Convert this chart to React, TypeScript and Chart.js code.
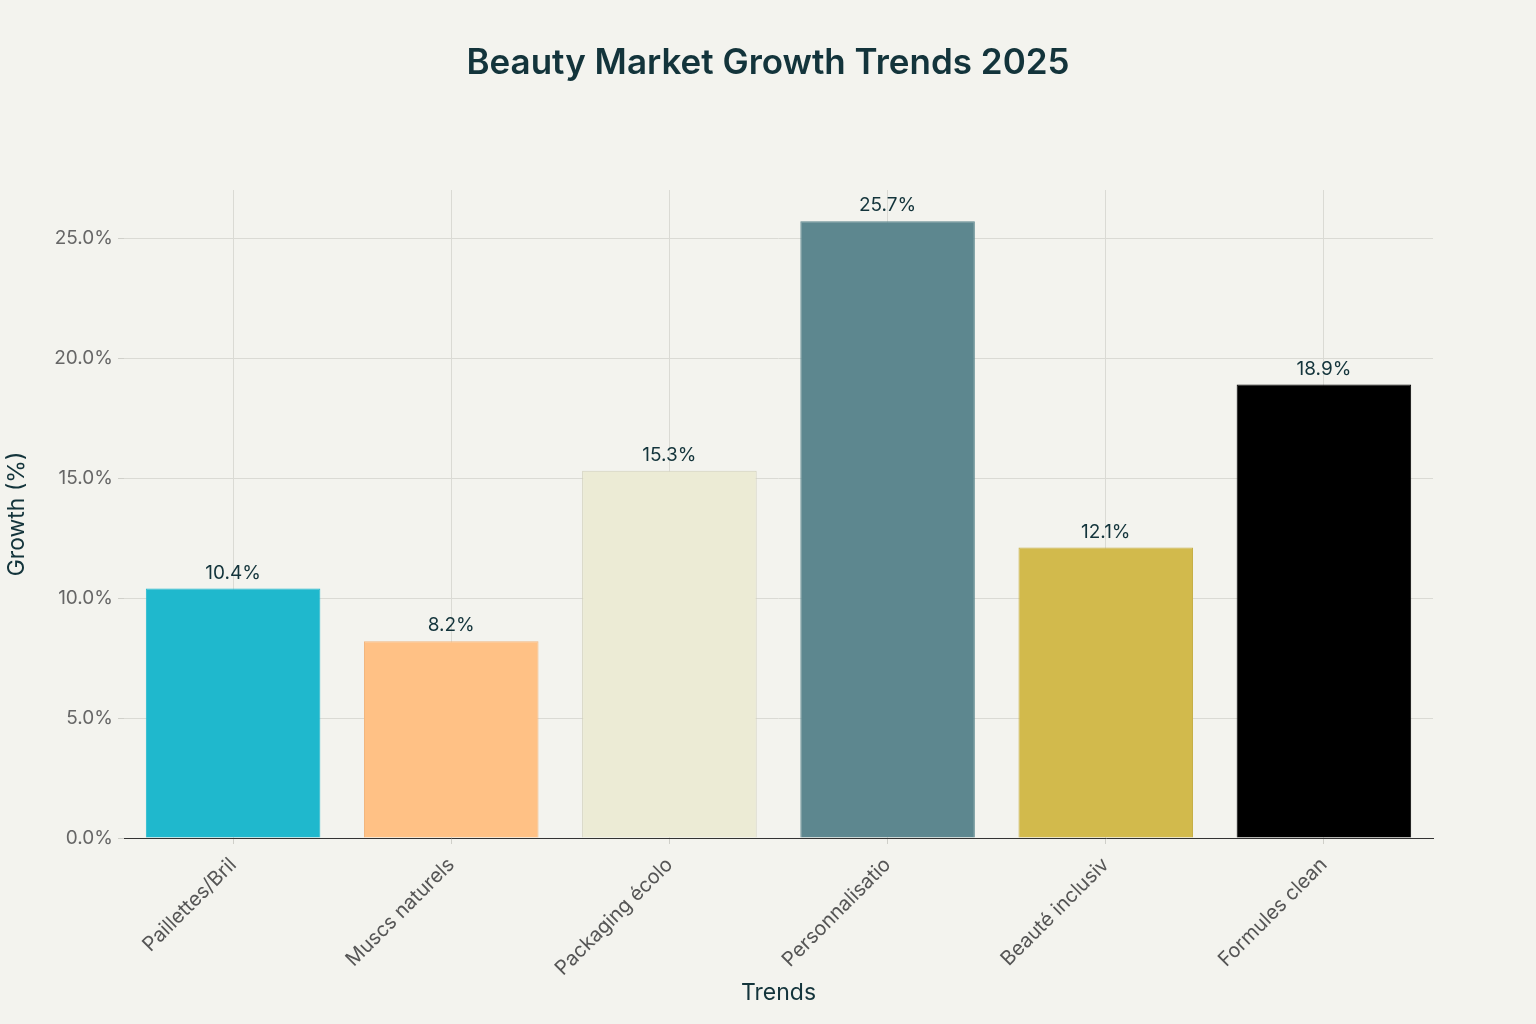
import React, { useEffect, useRef } from "react";
import { Chart, registerables } from "chart.js";

Chart.register(...registerables);

const categories = [
  "Paillettes/Bril",
  "Muscs naturels",
  "Packaging écolo",
  "Personnalisatio",
  "Beauté inclusiv",
  "Formules clean",
];
const growthValues = [10.4, 8.2, 15.3, 25.7, 12.1, 18.9];
const barColors = ["#1FB8CD", "#FFC185", "#ECEBD5", "#5D878F", "#D2BA4C", "#000000"];
const barBorders = ["#1FB8CD", "#F2B67E", "#D2D0BC", "#5D878F", "#C6AF47", "#000000"];
const yTickValues = [0, 5, 10, 15, 20, 25];
const chartTitle = "Beauty Market Growth Trends 2025";

const FONT = "Inter, 'Noto Sans', sans-serif";
const BG = "#F3F3EE";
const TEXT = "#13343B";

// Value labels above each bar
const valueLabels = {
  id: "valueLabels",
  afterDatasetsDraw(chart: any) {
    const { ctx } = chart;
    const meta = chart.getDatasetMeta(0);
    ctx.save();
    ctx.font = `19px ${FONT}`;
    ctx.fillStyle = TEXT;
    ctx.textAlign = "center";
    ctx.textBaseline = "bottom";
    meta.data.forEach((bar: any, i: number) => {
      ctx.fillText(`${growthValues[i].toFixed(1)}%`, bar.x, bar.y - 6);
    });
    ctx.restore();
  },
};

// Page background plus a title centred on the whole canvas
const backgroundAndTitle = {
  id: "backgroundAndTitle",
  beforeDraw(chart: any) {
    const { ctx, width, height } = chart;
    ctx.save();
    ctx.fillStyle = BG;
    ctx.fillRect(0, 0, width, height);
    ctx.font = `600 35px ${FONT}`;
    ctx.fillStyle = TEXT;
    ctx.textAlign = "center";
    ctx.textBaseline = "middle";
    ctx.fillText(chartTitle, width / 2, 63);
    ctx.restore();
  },
};

export default function App() {
  const canvasRef = useRef<HTMLCanvasElement | null>(null);

  useEffect(() => {
    document.body.style.margin = "0";
    document.body.style.background = BG;
    const canvas = canvasRef.current;
    if (!canvas) return;
    const chart = new Chart(canvas, {
      type: "bar",
      data: {
        labels: categories,
        datasets: [
          {
            data: growthValues,
            backgroundColor: barColors,
            borderColor: barBorders,
            borderWidth: 1,
            barPercentage: 0.8,
            categoryPercentage: 1,
          },
        ],
      },
      options: {
        responsive: false,
        animation: false,
        devicePixelRatio: 1,
        layout: { padding: { left: 0, right: 103, top: 190, bottom: 0 } },
        plugins: {
          legend: { display: false },
          tooltip: { enabled: false },
          title: { display: false },
        },
        scales: {
          x: {
            grid: {
              offset: false,
              color: "#DADAD4",
              tickLength: 6,
              tickColor: "#CFCFC9",
            },
            border: { color: "#333333", width: 1 },
            ticks: {
              color: "#555555",
              font: { family: FONT, size: 20 },
              maxRotation: 45,
              minRotation: 45,
              padding: 9,
            },
            title: {
              display: true,
              text: "Trends",
              color: TEXT,
              font: { family: FONT, size: 23 },
              padding: { top: 4, bottom: 17 },
            },
            afterFit(scale: any) {
              scale.height = 186;
            },
          },
          y: {
            min: 0,
            max: 27,
            grid: { color: "#DADAD4", tickLength: 6, tickColor: "#CFCFC9" },
            border: { display: false },
            ticks: {
              stepSize: 5,
              color: "#666666",
              font: { family: FONT, size: 19 },
              padding: 5,
              callback: (v: any) => `${Number(v).toFixed(1)}%`,
            },
            afterBuildTicks(scale: any) {
              scale.ticks = yTickValues.map((value) => ({ value }));
            },
            title: {
              display: true,
              text: "Growth (%)",
              color: TEXT,
              font: { family: FONT, size: 23 },
              padding: { top: 3, bottom: 4 },
            },
            afterFit(scale: any) {
              scale.width = 124;
            },
          },
        },
      },
      plugins: [backgroundAndTitle, valueLabels],
    });
    return () => chart.destroy();
  }, []);

  return (
    <div style={{ width: 1536, height: 1024, background: BG }}>
      <canvas ref={canvasRef} width={1536} height={1024} />
    </div>
  );
}
